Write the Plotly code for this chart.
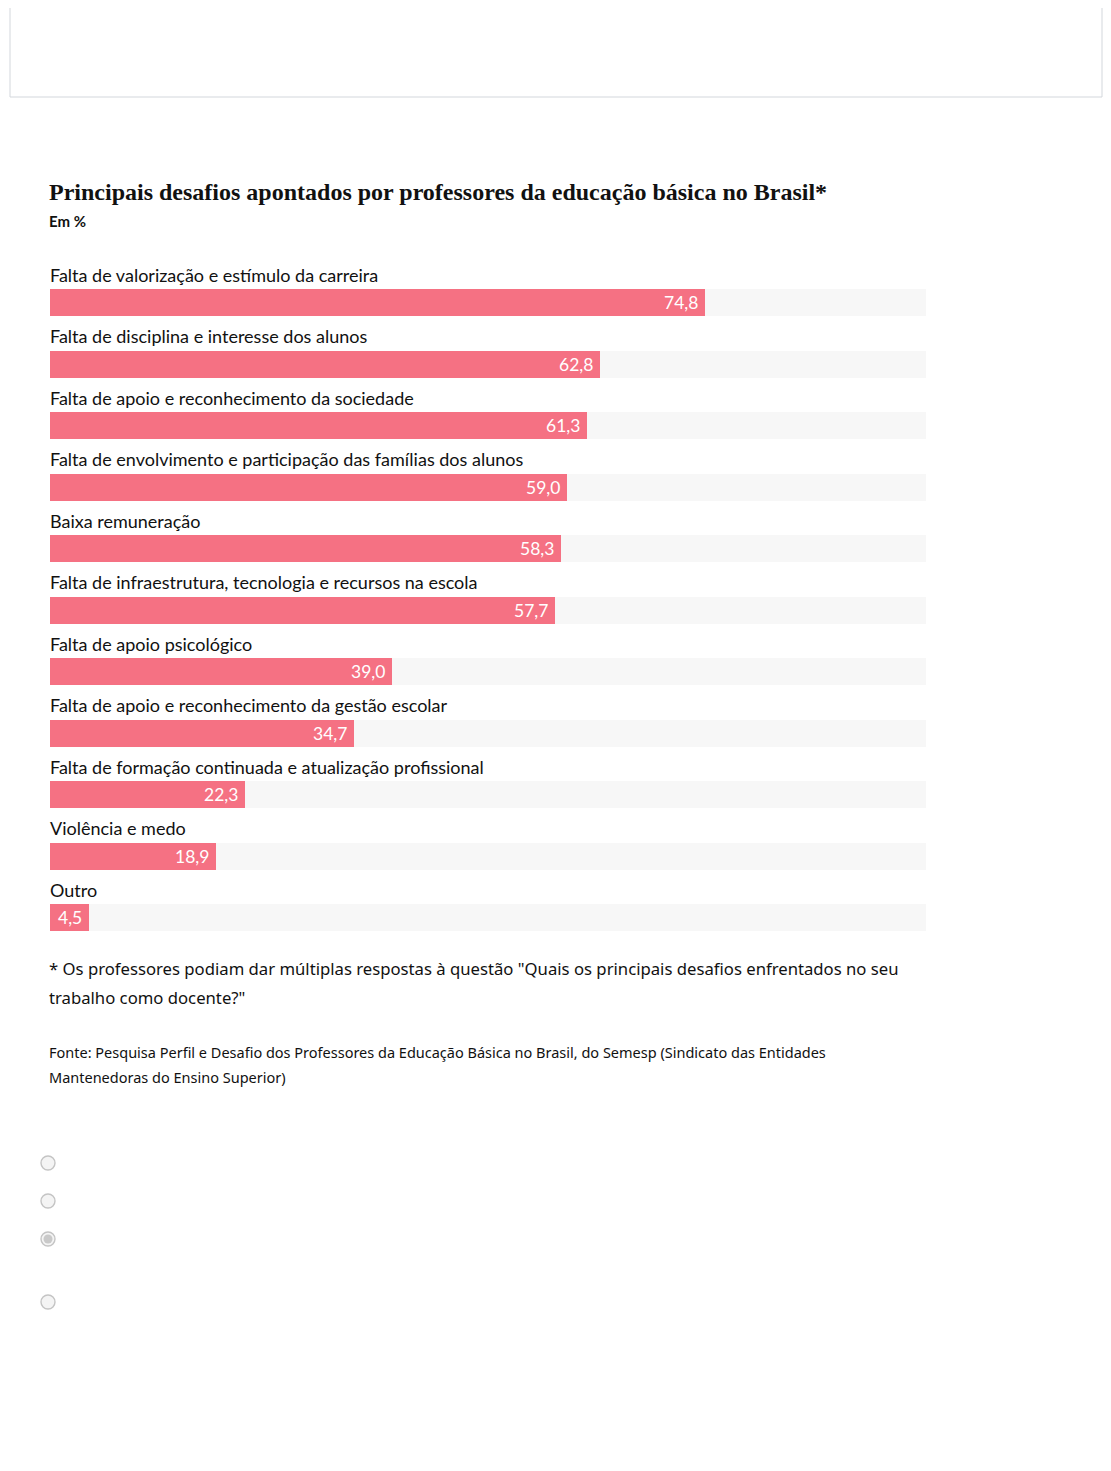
import plotly.graph_objects as go

# dados (em %)
categorias = [
    "Falta de valorização e estímulo da carreira",
    "Falta de disciplina e interesse dos alunos",
    "Falta de apoio e reconhecimento da sociedade",
    "Falta de envolvimento e participação das famílias dos alunos",
    "Baixa remuneração",
    "Falta de infraestrutura, tecnologia e recursos na escola",
    "Falta de apoio psicológico",
    "Falta de apoio e reconhecimento da gestão escolar",
    "Falta de formação continuada e atualização profissional",
    "Violência e medo",
    "Outro",
]
valores = [74.8, 62.8, 61.3, 59.0, 58.3, 57.7, 39.0, 34.7, 22.3, 18.9, 4.5]
maximo = [100] * len(valores)

titulo = "Principais desafios apontados por professores da educação básica no Brasil*"
subtitulo = "Em %"
nota = [
    '* Os professores podiam dar múltiplas respostas à questão "Quais os principais desafios enfrentados no seu',
    'trabalho como docente?"',
]
fonte = [
    "Fonte: Pesquisa Perfil e Desafio dos Professores da Educação Básica no Brasil, do Semesp (Sindicato das Entidades",
    "Mantenedoras do Ensino Superior)",
]

# a página tem margem de 8px no body
OFF = 8
W, H = 1111 - 2 * OFF, 1471 - 2 * OFF
ROSA = "#f57183"
TRILHO = "#f7f7f7"


def px_x(v):
    return (v - OFF) / W


def px_y(v):
    return 1 - (v - OFF) / H


posicoes = list(range(len(categorias)))

fig = go.Figure()

# trilho de fundo (100%)
fig.add_trace(go.Bar(
    x=maximo, y=posicoes, orientation="h",
    marker=dict(color=TRILHO, line=dict(width=0)),
    width=0.44, hoverinfo="skip", showlegend=False,
))

fig.add_trace(go.Bar(
    x=valores, y=posicoes, orientation="h",
    marker=dict(color=ROSA, line=dict(width=0)),
    width=0.44, showlegend=False,
    hovertemplate="%{x}<extra></extra>",
))

# rótulos das categorias e valores
for i, (cat, val) in enumerate(zip(categorias, valores)):
    fig.add_annotation(
        x=0, y=i, xref="x", yref="y", text=cat, showarrow=False,
        xanchor="left", yanchor="middle", yshift=28, xshift=-2,
        font=dict(family="Lato", size=18, color="#111111"),
    )
    fig.add_annotation(
        x=val, y=i, xref="x", yref="y", text=f"{val:.1f}".replace(".", ","),
        showarrow=False, xanchor="right", yanchor="middle", xshift=-5,
        font=dict(family="Lato", size=17.5, color="white"),
    )

# título e textos
fig.add_annotation(
    x=px_x(47), y=px_y(192), xref="paper", yref="paper", text=f"<b>{titulo}</b>",
    showarrow=False, xanchor="left", yanchor="middle",
    font=dict(family="Liberation Serif", size=24, color="#111111"),
)
fig.add_annotation(
    x=px_x(47), y=px_y(221), xref="paper", yref="paper", text=f"<b>{subtitulo}</b>",
    showarrow=False, xanchor="left", yanchor="middle",
    font=dict(family="Lato", size=15, color="#111111"),
)
for j, linha in enumerate(nota):
    fig.add_annotation(
        x=px_x(47), y=px_y(968 + 29 * j), xref="paper", yref="paper", text=linha,
        showarrow=False, xanchor="left", yanchor="middle",
        font=dict(family="Noto Sans", size=16.7, color="#111111"),
    )
for j, linha in enumerate(fonte):
    fig.add_annotation(
        x=px_x(47), y=px_y(1052 + 25 * j), xref="paper", yref="paper", text=linha,
        showarrow=False, xanchor="left", yanchor="middle",
        font=dict(family="Noto Sans", size=14.5, color="#111111"),
    )

# caixa superior e botões de rádio
shapes = [dict(
    type="rect", xref="paper", yref="paper",
    x0=px_x(10), x1=px_x(1102), y0=px_y(97), y1=px_y(1),
    line=dict(color="#d3d7dc", width=1), fillcolor="white", layer="below",
)]
for k, cy in enumerate([1163, 1201, 1239, 1302]):
    shapes.append(dict(
        type="circle", xref="paper", yref="paper",
        x0=px_x(48 - 7), x1=px_x(48 + 7), y0=px_y(cy + 7), y1=px_y(cy - 7),
        line=dict(color="#c4c4c4", width=1.4), fillcolor="#f4f4f4",
    ))
    if k == 2:
        shapes.append(dict(
            type="circle", xref="paper", yref="paper",
            x0=px_x(48 - 4.5), x1=px_x(48 + 4.5), y0=px_y(cy + 4.5), y1=px_y(cy - 4.5),
            line=dict(width=0), fillcolor="#c9c9c9",
        ))

top_eixo = 302.5 - 30.75
base_eixo = 917.5 + 30.75

fig.update_layout(
    width=W, height=H,
    margin=dict(l=0, r=0, t=0, b=0),
    paper_bgcolor="white", plot_bgcolor="white",
    barmode="overlay", bargap=0,
    shapes=shapes,
    xaxis=dict(
        domain=[px_x(50), px_x(926)], range=[0, 100],
        showgrid=False, zeroline=False, showticklabels=False, fixedrange=True,
    ),
    yaxis=dict(
        domain=[px_y(base_eixo), px_y(top_eixo)], range=[10.5, -0.5],
        showgrid=False, zeroline=False, showticklabels=False, fixedrange=True,
    ),
)

fig.write_html("out.html")
